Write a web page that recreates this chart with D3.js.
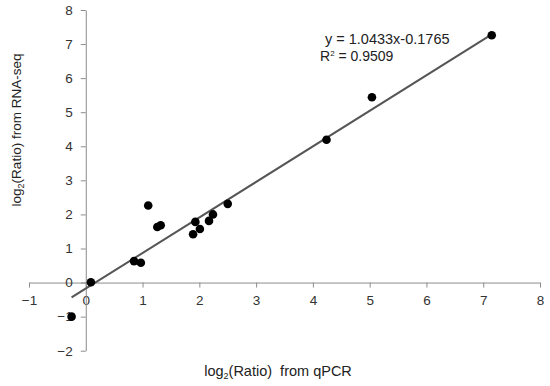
<!DOCTYPE html>
<html><head><meta charset="utf-8">
<script src="https://cdn.jsdelivr.net/npm/d3@7"></script>
<style>body{margin:0;background:#fff}svg{display:block;font-family:"Liberation Sans",Arial,sans-serif}</style>
</head><body><svg id="c" width="550" height="386"></svg>
<script>
const qpcr = [-0.25, 0.09, 0.85, 0.97, 1.10, 1.26, 1.32, 1.89, 1.93, 2.01, 2.17, 2.24, 2.50, 4.24, 5.04, 7.15];
const rnaseq = [-1.0, 0.01, 0.63, 0.58, 2.26, 1.63, 1.68, 1.42, 1.78, 1.57, 1.81, 2.00, 2.31, 4.19, 5.44, 7.26];
const xTicks = [-1, 0, 1, 2, 3, 4, 5, 6, 7, 8];
const yTicks = [-2, -1, 0, 1, 2, 3, 4, 5, 6, 7, 8];
const slope = 1.0433, intercept = -0.1765;
const eqText = "y = 1.0433x-0.1765";
const r2Value = "0.9509";

const svg = d3.select("#c");
const x = d3.scaleLinear().domain([-1, 8]).range([29, 540]);
const y = d3.scaleLinear().domain([-2, 8]).range([350.7, 10]);
const axisColor = "#8c8c8c", textColor = "#333";

const gx = svg.append("g").attr("transform", `translate(0,${y(0)})`)
  .call(d3.axisBottom(x).tickValues(xTicks).tickSize(5).tickSizeOuter(0).tickFormat(d3.format("d")));
gx.select(".domain").attr("stroke", axisColor);
gx.selectAll(".tick line").attr("stroke", axisColor);
gx.selectAll(".tick text").attr("fill", textColor).attr("font-size", 13.5).attr("dy", "1.05em")
  .attr("font-family", '"Liberation Sans",Arial,sans-serif');

const gy = svg.append("g").attr("transform", `translate(${x(0)},0)`)
  .call(d3.axisLeft(y).tickValues(yTicks).tickSize(5).tickSizeOuter(0).tickFormat(d3.format("d")));
gy.select(".domain").attr("stroke", axisColor);
gy.selectAll(".tick line").attr("stroke", axisColor);
gy.selectAll(".tick text").attr("fill", textColor).attr("font-size", 13.5).attr("x", -13)
  .attr("font-family", '"Liberation Sans",Arial,sans-serif');

const xmin = d3.min(qpcr), xmax = d3.max(qpcr);
svg.append("line")
  .attr("x1", x(xmin)).attr("y1", y(slope * xmin + intercept))
  .attr("x2", x(xmax)).attr("y2", y(slope * xmax + intercept))
  .attr("stroke", "#555").attr("stroke-width", 2);

svg.append("g").selectAll("circle").data(qpcr).join("circle")
  .attr("cx", d => x(d)).attr("cy", (d, i) => y(rnaseq[i])).attr("r", 4.3).attr("fill", "#000");

svg.append("text").attr("x", 325).attr("y", 44).attr("font-size", 14.5).attr("fill", "#222").text(eqText);
const r2 = svg.append("text").attr("x", 320).attr("y", 60.5).attr("font-size", 14).attr("fill", "#222");
r2.append("tspan").text("R");
r2.append("tspan").attr("font-size", 8).attr("dy", -5).text("2");
r2.append("tspan").attr("dy", 5).text(" = " + r2Value);

const xt = svg.append("text").attr("x", 278).attr("y", 376).attr("text-anchor", "middle")
  .attr("font-size", 14.5).attr("fill", "#222").style("white-space", "pre");
xt.append("tspan").text("log");
xt.append("tspan").attr("font-size", 9).attr("dy", 3).text("2");
xt.append("tspan").attr("dy", -3).text("(Ratio)  from qPCR");

const yt = svg.append("text").attr("transform", "translate(21,130) rotate(-90)").attr("text-anchor", "middle")
  .attr("font-size", 13.5).attr("fill", "#222");
yt.append("tspan").text("log");
yt.append("tspan").attr("font-size", 9).attr("dy", 3).text("2");
yt.append("tspan").attr("dy", -3).text("(Ratio) from RNA-seq");
</script></body></html>
